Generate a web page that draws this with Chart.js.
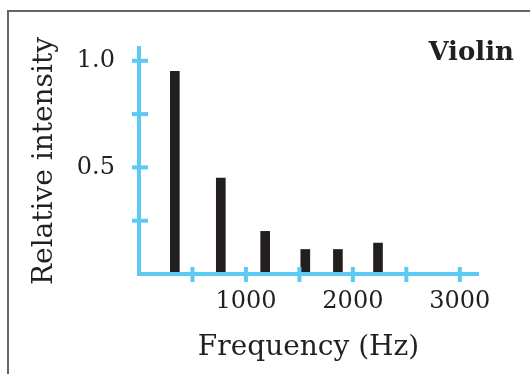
<!DOCTYPE html>
<html>
<head>
<meta charset="utf-8">
<script src="https://cdn.jsdelivr.net/npm/chart.js@4.4.1/dist/chart.umd.min.js"></script>
<style>
    html, body { margin: 0; padding: 0; background: #ffffff; }
    #wrap { position: relative; width: 530px; height: 374px; overflow: hidden; }
    #frame { position: absolute; left: 7px; top: 10px; width: 600px; height: 400px;
             border-left: 2px solid #666666; border-top: 2px solid #666666; }
    canvas { position: absolute; left: 0; top: 0; }
</style>
</head>
<body>
<div id="wrap">
    <div id="frame"></div>
    <canvas id="violinChart" width="530" height="374"></canvas>
</div>
<script>
    // Harmoniques du violon
    var frequencies = [335, 765, 1180, 1555, 1860, 2235];
    var intensities = [0.95, 0.45, 0.2, 0.115, 0.115, 0.145];
    var xTicks = [500, 1000, 1500, 2000, 2500, 3000];
    var xLabels = [1000, 2000, 3000];
    var yTicks = [0.25, 0.5, 0.75, 1.0];
    var yLabels = [0.5, 1.0];
    var instrument = 'Violin';

    var axisBlue = '#5ccaf2';
    var ink = '#231f20';
    var serif = "'DejaVu Serif', serif";

    // Petits traits qui traversent les axes + étiquette de l'instrument
    var crossTicks = {
        id: 'crossTicks',
        afterDraw: function (chart) {
            var ctx = chart.ctx;
            var x = chart.scales.x, y = chart.scales.y;
            ctx.save();
            ctx.strokeStyle = axisBlue;
            ctx.lineWidth = 4;
            x.ticks.forEach(function (t) {
                var px = x.getPixelForValue(t.value);
                ctx.beginPath();
                ctx.moveTo(px, y.bottom - 7);
                ctx.lineTo(px, y.bottom + 8);
                ctx.stroke();
            });
            y.ticks.forEach(function (t) {
                var py = y.getPixelForValue(t.value);
                ctx.beginPath();
                ctx.moveTo(x.left - 7, py);
                ctx.lineTo(x.left + 9, py);
                ctx.stroke();
            });
            ctx.fillStyle = ink;
            ctx.font = 'bold 26px ' + serif;
            ctx.textAlign = 'right';
            ctx.textBaseline = 'alphabetic';
            ctx.fillText(instrument, 514, 60);
            ctx.restore();
        }
    };

    function setTicks(values) {
        return function (scale) {
            scale.ticks = values.map(function (v) { return {value: v}; });
        };
    }

    new Chart(document.getElementById('violinChart').getContext('2d'), {
        type: 'bar',
        data: {
            datasets: [{
                label: instrument,
                data: frequencies.map(function (f, i) { return {x: f, y: intensities[i]}; }),
                backgroundColor: ink,
                barThickness: 9
            }]
        },
        options: {
            responsive: false,
            devicePixelRatio: 1,
            animation: false,
            layout: { padding: { left: 0, top: 48, right: 52, bottom: 0 } },
            plugins: {
                legend: { display: false },
                title: { display: false },
                tooltip: { enabled: false }
            },
            scales: {
                x: {
                    type: 'linear',
                    min: 0,
                    max: 3170,
                    bounds: 'data',
                    offset: false,
                    grid: { display: false },
                    border: { display: true, color: axisBlue, width: 4, z: 1 },
                    afterBuildTicks: setTicks(xTicks),
                    ticks: {
                        autoSkip: false,
                        maxRotation: 0,
                        padding: 5,
                        color: ink,
                        font: { family: serif, size: 24 },
                        callback: function (v) { return xLabels.indexOf(v) >= 0 ? String(v) : ''; }
                    },
                    title: {
                        display: true,
                        text: 'Frequency (Hz)',
                        color: ink,
                        font: { family: serif, size: 28 },
                        padding: { top: 0, bottom: 9 }
                    },
                    afterFit: function (scale) { scale.height = 100; }
                },
                y: {
                    min: 0,
                    max: 1.06,
                    bounds: 'data',
                    grid: { display: false },
                    border: { display: true, color: axisBlue, width: 4, z: 1 },
                    afterBuildTicks: setTicks(yTicks),
                    ticks: {
                        autoSkip: false,
                        padding: 16,
                        color: ink,
                        font: { family: serif, size: 24 },
                        callback: function (v) { return yLabels.indexOf(v) >= 0 ? v.toFixed(1) : ''; }
                    },
                    title: {
                        display: true,
                        text: 'Relative intensity',
                        color: ink,
                        font: { family: serif, size: 28 },
                        padding: { top: 28, bottom: 0 }
                    },
                    afterFit: function (scale) { scale.width = 139; }
                }
            }
        },
        plugins: [crossTicks]
    });
</script>
</body>
</html>
